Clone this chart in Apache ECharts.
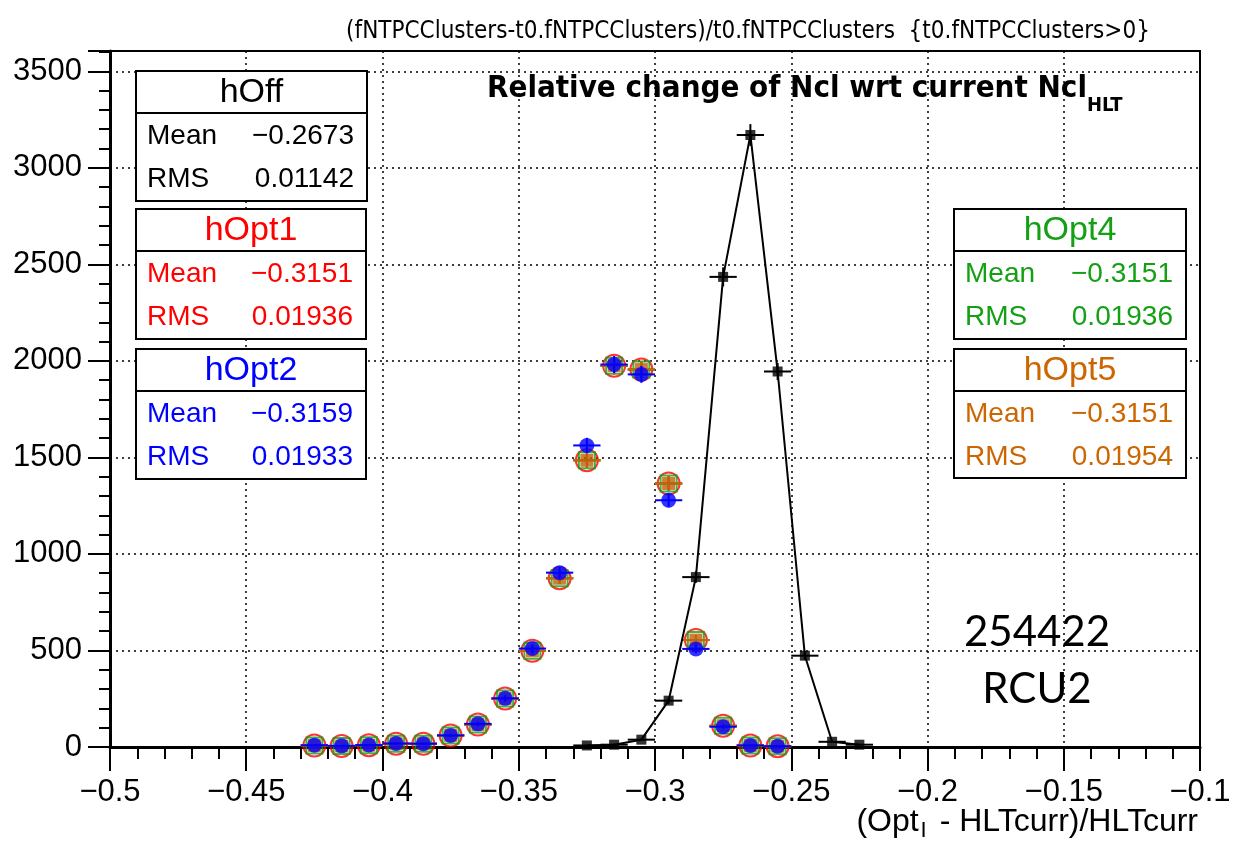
<!DOCTYPE html>
<html>
<head>
<meta charset="utf-8">
<script src="https://cdn.jsdelivr.net/npm/echarts@6/dist/echarts.min.js"></script>
<style>
html,body{margin:0;padding:0;background:#fff;}
#chart{width:1235px;height:847px;}
</style>
</head>
<body>
<div id="chart"></div>
<script>
// ---- data ----
const optBins = [-0.425,-0.415,-0.405,-0.395,-0.385,-0.375,-0.365,-0.355,-0.345,-0.335,-0.325,-0.315,-0.305,-0.295,-0.285,-0.275,-0.265,-0.255];
const hOpt1 = [8,5,9,17,17,60,116,251,498,874,1485,1975,1955,1365,554,110,8,4];
const hOpt4 = [8,5,9,17,17,60,116,251,498,874,1485,1975,1955,1365,554,110,8,4];
const hOpt5 = [8,5,9,17,17,60,116,251,498,874,1485,1975,1955,1365,554,110,8,4];
const hOpt2 = [9,6,10,18,17,60,120,252,510,903,1562,1981,1930,1278,508,105,8,4];
const offBins = [-0.325,-0.315,-0.305,-0.295,-0.285,-0.275,-0.265,-0.255,-0.245,-0.235,-0.225];
const hOff = [8,12,38,240,880,2435,3170,1945,473,27,12];
const binWidth = 0.01;

const statNames = ['hOff','hOpt1','hOpt2','hOpt4','hOpt5'];
const statMeans = ['\u22120.2673','\u22120.3151','\u22120.3159','\u22120.3151','\u22120.3151'];
const statRMS = ['0.01142','0.01936','0.01933','0.01936','0.01954'];

const topText = '(fNTPCClusters-t0.fNTPCClusters)/t0.fNTPCClusters  {t0.fNTPCClusters>0}';
const titleMain = 'Relative change of Ncl wrt current Ncl';
const titleSub = 'HLT';
const runText = ['254422','RCU2'];

// ---- styles ----
const C = {off:'#000000', opt1:'#ff0000', opt2:'#0000ff', opt4:'#14a014', opt5:'#cc6600', opt5fill:'#c0600a'};
const statColors = [C.off, C.opt1, C.opt2, C.opt4, C.opt5];
const statBoxes = [
  {l:136, t:71, w:231, h:130},
  {l:136, t:209, w:230, h:130},
  {l:136, t:349, w:230, h:130},
  {l:954, t:209, w:232, h:130},
  {l:954, t:349, w:232, h:129}
];
const FONT = '"Liberation Sans", Arial, Helvetica, sans-serif';
const NARROW = '"Liberation Sans Narrow", "DejaVu Sans Condensed", "Liberation Sans", sans-serif';

function fmt(v){
  const s = String(Number(v.toFixed(3)));
  return s.replace('-', '\u2212');
}

function errSeries(xs, ys, color, z){
  return {
    type:'custom', z:z, silent:true, clip:false,
    data: xs.map((x,i)=>[x, ys[i], Math.sqrt(ys[i])]),
    dimensions:['x','y','e'],
    encode:{x:0, y:1},
    renderItem: function(params, api){
      const x = api.value(0), y = api.value(1), e = api.value(2);
      const pL = api.coord([x - binWidth/2, y]);
      const pR = api.coord([x + binWidth/2, y]);
      const pB = api.coord([x, Math.max(0, y - e)]);
      const pT = api.coord([x, y + e]);
      return {type:'group', children:[
        {type:'line', shape:{x1:pL[0], y1:pL[1], x2:pR[0], y2:pR[1]}, style:{stroke:color, lineWidth:2}},
        {type:'line', shape:{x1:pB[0], y1:pB[1], x2:pT[0], y2:pT[1]}, style:{stroke:color, lineWidth:2}}
      ]};
    }
  };
}
function markSeries(xs, ys, symbol, size, style, z){
  return {type:'scatter', z:z, silent:true, symbol:symbol, symbolSize:size,
    data: xs.map((x,i)=>[x, ys[i]]), itemStyle:style};
}

const graphics = [];
// stat boxes
statBoxes.forEach((b,i)=>{
  const col = statColors[i];
  graphics.push({type:'rect', z:100, shape:{x:b.l, y:b.t, width:b.w, height:b.h}, style:{fill:'#fff', stroke:'#000', lineWidth:2}});
  graphics.push({type:'line', z:101, shape:{x1:b.l, y1:b.t+42, x2:b.l+b.w, y2:b.t+42}, style:{stroke:'#000', lineWidth:2}});
  graphics.push({type:'text', z:102, style:{text:statNames[i], x:b.l+b.w/2, y:b.t+22, align:'center', verticalAlign:'middle', font:'34px '+FONT, fill:col}});
  graphics.push({type:'text', z:102, style:{text:'Mean', x:b.l+11, y:b.t+65, align:'left', verticalAlign:'middle', font:'28px '+FONT, fill:col}});
  graphics.push({type:'text', z:102, style:{text:statMeans[i], x:b.l+b.w-13, y:b.t+65, align:'right', verticalAlign:'middle', font:'28px '+FONT, fill:col}});
  graphics.push({type:'text', z:102, style:{text:'RMS', x:b.l+11, y:b.t+108, align:'left', verticalAlign:'middle', font:'28px '+FONT, fill:col}});
  graphics.push({type:'text', z:102, style:{text:statRMS[i], x:b.l+b.w-13, y:b.t+108, align:'right', verticalAlign:'middle', font:'28px '+FONT, fill:col}});
});
// top text
graphics.push({type:'text', z:100, style:{text:topText, x:748, y:32, align:'center', verticalAlign:'middle', font:'24px '+NARROW, fill:'#000'}});
// title
graphics.push({type:'text', z:100, style:{
  text:'{m|'+titleMain+'}{s|'+titleSub+'}', x:487, y:89, align:'left', verticalAlign:'middle',
  rich:{
    m:{font:'bold 31px '+NARROW, fill:'#000', verticalAlign:'middle'},
    s:{font:'bold 20px '+NARROW, fill:'#000', padding:[34,0,0,0]}
  }
}});
// x-axis title
graphics.push({type:'text', z:100, style:{
  text:'{a|(Opt}{b|I}{a| - HLTcurr)/HLTcurr}', x:1198, y:822, align:'right', verticalAlign:'middle',
  rich:{
    a:{font:'32px '+FONT, fill:'#000'},
    b:{font:'22px '+FONT, fill:'#000', padding:[18,4,0,2]}
  }
}});
// run label
graphics.push({type:'text', z:100, style:{text:runText[0], x:1037, y:632, align:'center', verticalAlign:'middle', font:'42px Lato, "Open Sans", sans-serif', fill:'#000'}});
graphics.push({type:'text', z:100, style:{text:runText[1], x:1037, y:689, align:'center', verticalAlign:'middle', font:'42px Lato, "Open Sans", sans-serif', fill:'#000'}});

const chart = echarts.init(document.getElementById('chart'), null, {renderer:'canvas'});
chart.setOption({
  animation:false,
  backgroundColor:'#fff',
  grid:{left:110, right:35, top:51, bottom:100, show:true, borderColor:'#000', borderWidth:2, backgroundColor:'transparent'},
  xAxis:{
    type:'value', min:-0.5, max:-0.1, interval:0.05,
    axisLine:{show:true, onZero:false, lineStyle:{color:'#000', width:3}},
    axisTick:{show:true, inside:false, length:24, lineStyle:{color:'#000', width:2}},
    minorTick:{show:true, splitNumber:5, length:12, lineStyle:{color:'#000', width:2}},
    axisLabel:{color:'#000', fontFamily:FONT, fontSize:31, margin:30, formatter:fmt},
    splitLine:{show:true, lineStyle:{color:'#000', width:1.5, type:[2,4]}}
  },
  yAxis:{
    type:'value', min:0, max:3605, interval:500,
    axisLine:{show:true, lineStyle:{color:'#000', width:3}},
    axisTick:{show:true, inside:false, length:22, lineStyle:{color:'#000', width:2}},
    minorTick:{show:true, splitNumber:5, length:11, lineStyle:{color:'#000', width:2}},
    axisLabel:{color:'#000', fontFamily:FONT, fontSize:31, margin:28, showMaxLabel:false, formatter:function(v){return String(v);}},
    splitLine:{show:true, lineStyle:{color:'#000', width:1.5, type:[2,4]}}
  },
  series:[
    errSeries(optBins, hOpt1, C.opt1, 2),
    markSeries(optBins, hOpt1, 'circle', 22, {color:'rgba(0,0,0,0)', borderColor:C.opt1, borderWidth:2}, 3),
    errSeries(optBins, hOpt4, C.opt4, 4),
    markSeries(optBins, hOpt4, 'rect', 16, {color:'rgba(0,0,0,0)', borderColor:C.opt4, borderWidth:2}, 5),
    errSeries(optBins, hOpt5, C.opt5, 6),
    markSeries(optBins, hOpt5, 'rect', 13, {color:C.opt5fill}, 7),
    errSeries(optBins, hOpt2, C.opt2, 8),
    markSeries(optBins, hOpt2, 'circle', 15, {color:C.opt2}, 9),
    {type:'line', z:10, silent:true, symbol:'none', data:offBins.map((x,i)=>[x,hOff[i]]), lineStyle:{color:C.off, width:2}},
    errSeries(offBins, hOff, C.off, 11),
    markSeries(offBins, hOff, 'rect', 10, {color:C.off}, 12)
  ],
  graphic: graphics
});
</script>
</body>
</html>
